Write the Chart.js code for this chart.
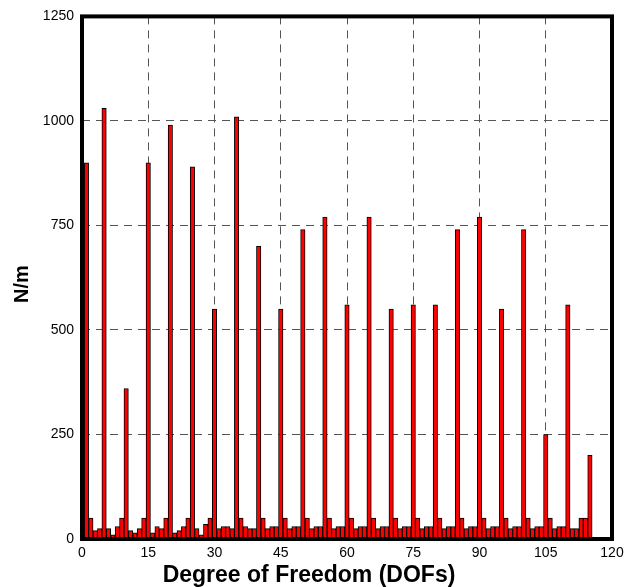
<!DOCTYPE html>
<html>
<head>
<meta charset="utf-8">
<script src="https://cdn.jsdelivr.net/npm/chart.js@4.4.1/dist/chart.umd.min.js"></script>
<style>
  html, body { margin: 0; padding: 0; background: #fff; }
  #wrap { width: 635px; height: 587px; }
</style>
</head>
<body>
<div id="wrap"><canvas id="dofChart"></canvas></div>
<script>
// stiffness per degree of freedom (N/m), DOF 1..115
const stiffness = [
    900, 50, 20, 25, 1030,
    25, 10, 30, 50, 360,
    20, 15, 25, 50, 900,
    15, 30, 25, 50, 990,
    15, 20, 30, 50, 890,
    25, 10, 35, 50, 550,
    25, 30, 30, 25, 1010,
    50, 30, 25, 25, 700,
    50, 25, 30, 30, 550,
    50, 25, 30, 30, 740,
    50, 25, 30, 30, 770,
    50, 25, 30, 30, 560,
    50, 25, 30, 30, 770,
    50, 25, 30, 30, 550,
    50, 25, 30, 30, 560,
    50, 25, 30, 30, 560,
    50, 25, 30, 30, 740,
    50, 25, 30, 30, 770,
    50, 25, 30, 30, 550,
    50, 25, 30, 30, 740,
    50, 25, 30, 30, 250,
    50, 25, 30, 30, 560,
    25, 25, 50, 50, 200
];
const dofs = stiffness.map((_, i) => i + 1);

const xTicks = [0, 15, 30, 45, 60, 75, 90, 105, 120];
const yTicks = [0, 250, 500, 750, 1000, 1250];

const FONT = 'Arial, "Liberation Sans", sans-serif';

// thick black frame round the plot area + axis titles
const framePlugin = {
    id: 'frame',
    afterDraw(chart) {
        const a = chart.chartArea;
        const ctx = chart.ctx;
        ctx.save();
        ctx.strokeStyle = '#000';
        ctx.lineWidth = 4;
        ctx.strokeRect(a.left, a.top, a.right - a.left, a.bottom - a.top);

        ctx.fillStyle = '#000';
        ctx.textAlign = 'center';
        ctx.textBaseline = 'alphabetic';
        ctx.font = 'bold 23px ' + FONT;
        ctx.fillText('Degree of Freedom (DOFs)', 309, 582);

        ctx.translate(28, 284);
        ctx.rotate(-Math.PI / 2);
        ctx.font = 'bold 20px ' + FONT;
        ctx.fillText('N/m', 0, 0);
        ctx.restore();
    }
};

new Chart(document.getElementById('dofChart'), {
    type: 'bar',
    data: {
        datasets: [{
            data: dofs.map((d, i) => ({ x: d, y: stiffness[i] })),
            backgroundColor: '#ff0000',
            borderColor: '#000000',
            borderWidth: 1,
            borderSkipped: 'start',
            barPercentage: 1,
            categoryPercentage: 1
        }]
    },
    options: {
        responsive: true,
        maintainAspectRatio: false,
        animation: false,
        layout: { padding: { left: 0, right: 23, top: 12, bottom: 0 } },
        plugins: {
            legend: { display: false },
            tooltip: { enabled: false }
        },
        scales: {
            x: {
                type: 'linear',
                min: xTicks[0],
                max: xTicks[xTicks.length - 1],
                offset: false,
                afterBuildTicks: s => { s.ticks = xTicks.map(v => ({ value: v })); },
                afterFit: s => { s.height = 48; },
                grid: {
                    offset: false,
                    drawTicks: false,
                    color: ctx => (ctx.tick && (ctx.tick.value === 0 || ctx.tick.value === 120)) ? 'rgba(0,0,0,0)' : '#555',
                    lineWidth: 1
                },
                border: { display: false, dash: [8, 6] },
                ticks: {
                    color: '#000',
                    font: { family: FONT, size: 14 },
                    padding: 6,
                    maxRotation: 0,
                    callback: v => String(v)
                }
            },
            y: {
                min: yTicks[0],
                max: yTicks[yTicks.length - 1],
                afterBuildTicks: s => { s.ticks = yTicks.map(v => ({ value: v })); },
                afterFit: s => { s.width = 82; },
                grid: {
                    drawTicks: false,
                    color: ctx => (ctx.tick && (ctx.tick.value === 0 || ctx.tick.value === 1250)) ? 'rgba(0,0,0,0)' : '#555',
                    lineWidth: 1
                },
                border: { display: false, dash: [8, 6] },
                ticks: {
                    color: '#000',
                    font: { family: FONT, size: 14 },
                    padding: 8,
                    callback: v => String(v)
                }
            }
        }
    },
    plugins: [framePlugin]
});
</script>
</body>
</html>
